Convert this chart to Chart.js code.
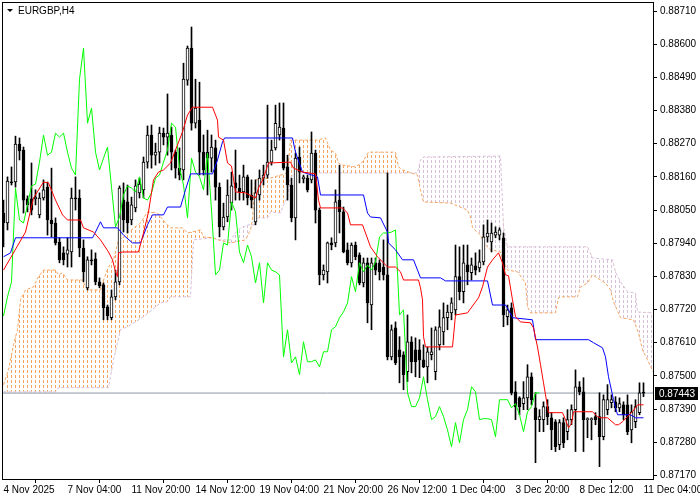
<!DOCTYPE html>
<html>
<head>
<meta charset="utf-8">
<title>EURGBP,H4</title>
<script src="https://cdn.jsdelivr.net/npm/chart.js@4.4.1/dist/chart.umd.min.js"></script>
<style>
  html, body { margin: 0; padding: 0; background: #fff; }
  #wrap { width: 700px; height: 500px; }
</style>
</head>
<body>
<div id="wrap"><canvas id="chart" width="700" height="500"></canvas></div>
<script>
"use strict";

const symbolTitle = "EURGBP,H4";

// H4 bars, one label every 16 bars
const timeTickIdx = [0, 16, 32, 48, 64, 80, 96, 112, 128, 144, 160];
const timeLabels = ["4 Nov 2025", "7 Nov 04:00", "11 Nov 20:00", "14 Nov 12:00", "19 Nov 04:00",
  "21 Nov 20:00", "26 Nov 12:00", "1 Dec 04:00", "3 Dec 20:00", "8 Dec 12:00", "11 Dec 04:00"];

const priceTicks = [0.87170, 0.87280, 0.87390, 0.87500, 0.87610, 0.87720, 0.87830,
  0.87940, 0.88050, 0.88160, 0.88270, 0.88380, 0.88490, 0.88600, 0.88710];

const opens = [
  0.88040, 0.88007, 0.88143, 0.88143, 0.88269, 0.88249, 0.88087, 0.88087, 0.88087, 0.88034,
  0.88090, 0.88126, 0.88017, 0.88007, 0.87944, 0.87908, 0.87904, 0.87911, 0.88090, 0.88090,
  0.87924, 0.87792, 0.87885, 0.87888, 0.87812, 0.87802, 0.87729, 0.87693, 0.87762, 0.87812,
  0.88083, 0.88077, 0.88017, 0.88057, 0.88107, 0.88117, 0.88209, 0.88299, 0.88232, 0.88242,
  0.88305, 0.88292, 0.88299, 0.88242, 0.88189, 0.88183, 0.88481, 0.88587, 0.88338, 0.88348,
  0.88242, 0.88242, 0.88222, 0.88256, 0.88126, 0.87994, 0.88027, 0.88073, 0.88140, 0.88123,
  0.88110, 0.88160, 0.88100, 0.88011, 0.88100, 0.88156, 0.88166, 0.88209, 0.88256, 0.88299,
  0.88322, 0.88193, 0.88133, 0.88024, 0.88226, 0.88153, 0.88156, 0.88150, 0.88239, 0.88050,
  0.87835, 0.87845, 0.87941, 0.87941, 0.88083, 0.88044, 0.87918, 0.87875, 0.87934, 0.87901,
  0.87808, 0.87875, 0.87735, 0.87875, 0.87875, 0.87861, 0.87835, 0.87563, 0.87659, 0.87586,
  0.87570, 0.87514, 0.87613, 0.87586, 0.87586, 0.87553, 0.87530, 0.87570, 0.87514, 0.87603,
  0.87646, 0.87693, 0.87709, 0.87719, 0.87829, 0.87779, 0.87868, 0.87842, 0.87865, 0.87858,
  0.87878, 0.87961, 0.87944, 0.87967, 0.87967, 0.87958, 0.87696, 0.87726, 0.87447, 0.87427,
  0.87408, 0.87427, 0.87497, 0.87394, 0.87355, 0.87355, 0.87398, 0.87361, 0.87348, 0.87272,
  0.87345, 0.87315, 0.87355, 0.87388, 0.87464, 0.87447, 0.87355, 0.87355, 0.87365, 0.87365,
  0.87298, 0.87388, 0.87411, 0.87414, 0.87394, 0.87404, 0.87404, 0.87321, 0.87348, 0.87378,
  0.87444
];
const highs = [
  0.88083, 0.88160, 0.88193, 0.88295, 0.88289, 0.88259, 0.88097, 0.88206, 0.88117, 0.88107,
  0.88150, 0.88143, 0.88189, 0.88024, 0.87958, 0.87928, 0.87958, 0.88123, 0.88160, 0.88117,
  0.87951, 0.87895, 0.87918, 0.87908, 0.87825, 0.87808, 0.87735, 0.87785, 0.87851, 0.88130,
  0.88140, 0.88133, 0.88093, 0.88150, 0.88156, 0.88226, 0.88329, 0.88332, 0.88272, 0.88325,
  0.88322, 0.88435, 0.88325, 0.88249, 0.88256, 0.88537, 0.88594, 0.88657, 0.88484, 0.88474,
  0.88299, 0.88315, 0.88299, 0.88282, 0.88140, 0.88073, 0.88150, 0.88176, 0.88249, 0.88166,
  0.88199, 0.88166, 0.88150, 0.88150, 0.88183, 0.88199, 0.88398, 0.88282, 0.88398, 0.88405,
  0.88405, 0.88232, 0.88156, 0.88239, 0.88259, 0.88166, 0.88166, 0.88309, 0.88249, 0.88057,
  0.87868, 0.87944, 0.87958, 0.88117, 0.88199, 0.88060, 0.87941, 0.87941, 0.87944, 0.87908,
  0.87891, 0.87891, 0.87891, 0.87891, 0.87885, 0.87951, 0.88173, 0.87669, 0.87679, 0.87630,
  0.87580, 0.87702, 0.87630, 0.87626, 0.87620, 0.87603, 0.87596, 0.87659, 0.87663, 0.87719,
  0.87742, 0.87735, 0.87759, 0.87934, 0.87928, 0.87934, 0.87934, 0.87891, 0.87908, 0.87918,
  0.88001, 0.88017, 0.88007, 0.87994, 0.87991, 0.87974, 0.87735, 0.87742, 0.87481, 0.87431,
  0.87481, 0.87537, 0.87510, 0.87444, 0.87388, 0.87414, 0.87421, 0.87378, 0.87355, 0.87355,
  0.87361, 0.87388, 0.87404, 0.87520, 0.87481, 0.87494, 0.87361, 0.87361, 0.87378, 0.87444,
  0.87437, 0.87471, 0.87437, 0.87431, 0.87427, 0.87414, 0.87437, 0.87404, 0.87421, 0.87477,
  0.87477
];
const lows = [
  0.87928, 0.87984, 0.88133, 0.88126, 0.88216, 0.88040, 0.88044, 0.88034, 0.88067, 0.88024,
  0.88083, 0.87967, 0.87961, 0.87934, 0.87875, 0.87868, 0.87861, 0.87861, 0.88050, 0.87895,
  0.87812, 0.87785, 0.87868, 0.87802, 0.87792, 0.87686, 0.87686, 0.87686, 0.87752, 0.87802,
  0.87977, 0.87974, 0.88001, 0.88044, 0.88090, 0.88090, 0.88189, 0.88189, 0.88199, 0.88206,
  0.88266, 0.88232, 0.88183, 0.88156, 0.88150, 0.88150, 0.88464, 0.88315, 0.88322, 0.88166,
  0.88166, 0.88100, 0.88176, 0.88083, 0.87961, 0.87984, 0.88011, 0.88050, 0.88083, 0.88083,
  0.88083, 0.88067, 0.88057, 0.88001, 0.88083, 0.88133, 0.88156, 0.88199, 0.88249, 0.88282,
  0.88183, 0.88083, 0.88011, 0.87951, 0.88140, 0.88140, 0.88110, 0.88140, 0.88007, 0.87802,
  0.87818, 0.87808, 0.87918, 0.87928, 0.87974, 0.87908, 0.87868, 0.87861, 0.87885, 0.87802,
  0.87795, 0.87676, 0.87653, 0.87835, 0.87818, 0.87818, 0.87553, 0.87553, 0.87537, 0.87477,
  0.87454, 0.87481, 0.87510, 0.87497, 0.87494, 0.87527, 0.87477, 0.87553, 0.87487, 0.87586,
  0.87603, 0.87653, 0.87686, 0.87702, 0.87752, 0.87742, 0.87802, 0.87818, 0.87835, 0.87845,
  0.87868, 0.87944, 0.87911, 0.87958, 0.87951, 0.87663, 0.87669, 0.87437, 0.87355, 0.87371,
  0.87388, 0.87388, 0.87404, 0.87212, 0.87315, 0.87315, 0.87338, 0.87255, 0.87249, 0.87255,
  0.87262, 0.87288, 0.87338, 0.87249, 0.87437, 0.87249, 0.87295, 0.87288, 0.87338, 0.87199,
  0.87288, 0.87371, 0.87394, 0.87381, 0.87381, 0.87355, 0.87305, 0.87278, 0.87328, 0.87371,
  0.87431
];
const closes = [
  0.88007, 0.88146, 0.88140, 0.88269, 0.88246, 0.88083, 0.88067, 0.88050, 0.88093, 0.88090,
  0.88117, 0.88017, 0.88004, 0.87941, 0.87885, 0.87885, 0.87918, 0.88090, 0.88087, 0.87924,
  0.87845, 0.87885, 0.87881, 0.87812, 0.87798, 0.87726, 0.87699, 0.87762, 0.87812, 0.88123,
  0.88017, 0.88007, 0.88067, 0.88130, 0.88136, 0.88209, 0.88299, 0.88232, 0.88242, 0.88305,
  0.88292, 0.88305, 0.88242, 0.88189, 0.88166, 0.88484, 0.88587, 0.88338, 0.88388, 0.88242,
  0.88183, 0.88222, 0.88259, 0.88126, 0.87994, 0.88027, 0.88100, 0.88130, 0.88123, 0.88110,
  0.88160, 0.88090, 0.88083, 0.88107, 0.88156, 0.88166, 0.88209, 0.88249, 0.88338, 0.88325,
  0.88189, 0.88133, 0.88024, 0.88222, 0.88176, 0.88160, 0.88117, 0.88239, 0.88050, 0.87835,
  0.87851, 0.87941, 0.87934, 0.88077, 0.88044, 0.87911, 0.87875, 0.87934, 0.87895, 0.87808,
  0.87875, 0.87742, 0.87875, 0.87851, 0.87845, 0.87835, 0.87563, 0.87653, 0.87543, 0.87563,
  0.87504, 0.87613, 0.87547, 0.87547, 0.87553, 0.87530, 0.87580, 0.87580, 0.87653, 0.87663,
  0.87693, 0.87712, 0.87742, 0.87829, 0.87779, 0.87875, 0.87845, 0.87868, 0.87851, 0.87878,
  0.87961, 0.87974, 0.87974, 0.87977, 0.87984, 0.87702, 0.87719, 0.87444, 0.87398, 0.87398,
  0.87427, 0.87497, 0.87421, 0.87355, 0.87365, 0.87398, 0.87365, 0.87321, 0.87265, 0.87345,
  0.87278, 0.87355, 0.87388, 0.87464, 0.87447, 0.87355, 0.87358, 0.87358, 0.87355, 0.87298,
  0.87421, 0.87421, 0.87421, 0.87394, 0.87408, 0.87371, 0.87315, 0.87381, 0.87398, 0.87444,
  0.87443
];

// indicator lines as [bar index, price] vertices
const tenkanPts = [
  [0, 0.87851], [5.5, 0.87977], [7.5, 0.88090], [10, 0.88143], [11.25, 0.88140], [13, 0.88083],
  [14.75, 0.88034], [16, 0.88017], [19.25, 0.88017], [20, 0.87991], [22.5, 0.87977], [24.25, 0.87951],
  [26.25, 0.87911], [27.25, 0.87885], [28, 0.87845], [28.5, 0.87829], [28.75, 0.87908], [29.75, 0.87911],
  [33.75, 0.87911], [35, 0.87974], [36.25, 0.88044], [37.5, 0.88150], [38.75, 0.88176], [40, 0.88183],
  [41.75, 0.88206], [43, 0.88249], [44.75, 0.88309], [46, 0.88365], [47.25, 0.88391], [52.25, 0.88391],
  [53.5, 0.88348], [53.75, 0.88292], [55, 0.88282], [56, 0.88206], [57, 0.88196], [58, 0.88110],
  [60.5, 0.88107], [63, 0.88090], [63.75, 0.88123], [65, 0.88156], [66.25, 0.88206], [71.75, 0.88209],
  [72.5, 0.88189], [74.75, 0.88176], [78, 0.88170], [78.75, 0.88083], [79.25, 0.88057], [84.75, 0.88057],
  [86, 0.88040], [86.75, 0.88001], [89.75, 0.88001], [90.5, 0.87974], [91.75, 0.87928], [93.5, 0.87895],
  [96, 0.87861], [98, 0.87861], [99.25, 0.87845], [100, 0.87818], [103.75, 0.87818], [104.25, 0.87792],
  [104.75, 0.87752], [105, 0.87630], [105.5, 0.87596], [112.25, 0.87596], [113, 0.87702], [116, 0.87709],
  [118.75, 0.87759], [119.75, 0.87795], [121, 0.87861], [122.25, 0.87885], [123.75, 0.87908], [124.75, 0.87875],
  [125.5, 0.87835], [126.25, 0.87832], [127.25, 0.87752], [128, 0.87696], [129.25, 0.87679], [131.75, 0.87676],
  [132.5, 0.87659], [133.5, 0.87596], [134.25, 0.87537], [135, 0.87477], [135.5, 0.87437], [136.25, 0.87378],
  [139.75, 0.87378], [140.5, 0.87355], [141.25, 0.87328], [142, 0.87342], [142.5, 0.87381], [147.25, 0.87381],
  [148.5, 0.87365], [149.25, 0.87361], [151, 0.87361], [153, 0.87338], [153.75, 0.87338], [154.75, 0.87348],
  [156, 0.87365], [157.25, 0.87381], [158.5, 0.87404], [160, 0.87404]
];
const kijunPts = [
  [0, 0.87895], [1.75, 0.87908], [3, 0.87958], [22.25, 0.87958], [23, 0.87977], [24.25, 0.88011],
  [25, 0.87991], [28.5, 0.87991], [30, 0.87967], [32.25, 0.87941], [34.25, 0.87941], [36, 0.88001],
  [37.25, 0.88034], [40, 0.88034], [41, 0.88060], [44.25, 0.88060], [45.5, 0.88117], [46.75, 0.88170],
  [52.25, 0.88170], [53.5, 0.88216], [54.75, 0.88276], [55.25, 0.88289], [72.25, 0.88289], [73, 0.88242],
  [74.75, 0.88176], [78.5, 0.88160], [79.25, 0.88100], [90, 0.88100], [91, 0.88040], [91.75, 0.88027],
  [94.25, 0.88024], [96, 0.87977], [96.25, 0.87941], [98, 0.87918], [99.75, 0.87885], [102.5, 0.87885],
  [103.5, 0.87851], [104.25, 0.87825], [109.25, 0.87825], [110.5, 0.87815], [121, 0.87815], [122.25, 0.87735],
  [125.5, 0.87735], [126.25, 0.87719], [127.25, 0.87693], [132.25, 0.87686], [133, 0.87620], [146.25, 0.87620],
  [147.5, 0.87610], [149.75, 0.87593], [150.5, 0.87563], [151.25, 0.87497], [152.5, 0.87421], [153.5, 0.87371],
  [156.75, 0.87371], [158, 0.87361], [160, 0.87361]
];
const spanAPts = [
  [0, 0.87471], [1.25, 0.87520], [2.5, 0.87603], [3.5, 0.87653], [4.25, 0.87752], [5.5, 0.87785],
  [7.5, 0.87795], [8.75, 0.87829], [10, 0.87851], [13, 0.87851], [13.75, 0.87835], [14.75, 0.87842],
  [16, 0.87818], [19.75, 0.87818], [20.5, 0.87795], [21.25, 0.87785], [24.25, 0.87785], [25, 0.87818],
  [26.25, 0.87861], [27.5, 0.87885], [28.75, 0.87951], [29.75, 0.87958], [31.25, 0.87977], [34.25, 0.88007],
  [36, 0.88044], [38.5, 0.88040], [40.5, 0.88007], [41.75, 0.87991], [44.75, 0.87991], [46, 0.87974],
  [49.25, 0.87984], [50, 0.87961], [52.5, 0.87958], [53.75, 0.87951], [56.75, 0.87941], [60.5, 0.87951],
  [61.75, 0.87984], [62.25, 0.88017], [62.5, 0.88083], [63, 0.88150], [66.75, 0.88156], [71, 0.88173],
  [71.75, 0.88282], [78.5, 0.88282], [80.5, 0.88289], [81, 0.88272], [81.75, 0.88249], [83, 0.88239],
  [83.75, 0.88206], [84.75, 0.88199], [88, 0.88193], [89.75, 0.88209], [91.25, 0.88242], [98, 0.88242],
  [98.75, 0.88193], [99.75, 0.88183], [103.5, 0.88166], [104.25, 0.88117], [105, 0.88077], [111.75, 0.88073],
  [116, 0.88050], [116.75, 0.88027], [117.25, 0.87991], [119.25, 0.87967], [120, 0.87941], [121.75, 0.87918],
  [124.25, 0.87911], [125, 0.87878], [126, 0.87851], [128.5, 0.87845], [130.5, 0.87808], [131, 0.87729],
  [131.75, 0.87709], [138, 0.87709], [138.75, 0.87759], [139.25, 0.87762], [143.5, 0.87762], [144.25, 0.87795],
  [146, 0.87808], [147.25, 0.87835], [149.25, 0.87818], [150.5, 0.87808], [151.75, 0.87785], [152.5, 0.87746],
  [154.25, 0.87693], [157.5, 0.87686], [158.75, 0.87643], [159.75, 0.87586], [161, 0.87553], [162.4, 0.87514]
];
const spanBPts = [
  [0, 0.87447], [13, 0.87447], [13.75, 0.87461], [26.25, 0.87461], [27.5, 0.87553], [29.25, 0.87653],
  [31, 0.87663], [35, 0.87696], [39.25, 0.87742], [41, 0.87746], [41.75, 0.87762], [46.75, 0.87762],
  [47.5, 0.87951], [52.25, 0.87958], [53.5, 0.87951], [56.75, 0.87951], [58, 0.87974], [59.25, 0.87991],
  [61.25, 0.88001], [63, 0.88001], [63.5, 0.88024], [66, 0.88024], [66.75, 0.88044], [69.25, 0.88040],
  [70, 0.88067], [71, 0.88093], [71.75, 0.88160], [73.5, 0.88173], [103.5, 0.88173], [104.25, 0.88216],
  [105, 0.88226], [124.25, 0.88229], [125, 0.87994], [126, 0.87928], [146, 0.87928], [147.25, 0.87891],
  [152.25, 0.87885], [153, 0.87845], [154.25, 0.87812], [156, 0.87779], [158, 0.87775], [158.5, 0.87712],
  [162.4, 0.87709]
];
const chikouShift = 26;

const xMin = -0.375;
const xMax = 162.375;

(function () {
  const canvas = document.getElementById("chart");
  const ctx = canvas.getContext("2d");
  const lastPrice = closes[closes.length - 1];

  // vertical dotted hatch, one stroke per bar column
  function hatch(color) {
    const c = document.createElement("canvas");
    c.width = 4;
    c.height = 5;
    const g = c.getContext("2d");
    g.fillStyle = color;
    g.fillRect(3, 0, 1, 3);
    return ctx.createPattern(c, "repeat");
  }

  const toXY = (pts) => pts.map((p) => ({ x: p[0], y: p[1] }));
  const lineDs = (label, pts, color, order, extra) => Object.assign({
    type: "line", label, data: pts, borderColor: color, borderWidth: 1,
    pointRadius: 0, tension: 0, fill: false, order
  }, extra || {});

  Chart.defaults.font.family = "'Liberation Sans', Arial, sans-serif";
  Chart.defaults.font.size = 10;
  Chart.defaults.color = "#000";

  const mtFrame = {
    id: "mtFrame",
    afterDraw(chart) {
      const c = chart.ctx;
      const a = chart.chartArea;
      c.save();
      c.strokeStyle = "#000";
      c.lineWidth = 1;
      c.strokeRect(a.left + 0.5, a.top + 0.5, a.right - a.left, a.bottom - a.top);

      c.fillStyle = "#000";
      c.beginPath();
      c.moveTo(a.left + 5, a.top + 7);
      c.lineTo(a.left + 11, a.top + 7);
      c.lineTo(a.left + 8, a.top + 10);
      c.closePath();
      c.fill();
      c.font = "10px 'Liberation Sans', Arial, sans-serif";
      c.textBaseline = "middle";
      c.fillText(symbolTitle, a.left + 16, a.top + 9);

      const y = Math.round(chart.scales.y.getPixelForValue(lastPrice));
      c.fillRect(a.right + 2, y - 6, 43, 13);
      c.fillStyle = "#fff";
      c.fillText(lastPrice.toFixed(5), a.right + 6, y + 1);
      c.restore();
    }
  };

  new Chart(canvas, {
    type: "bar",
    data: {
      datasets: [
        lineDs("Senkou Span A", toXY(spanAPts), "#F4A460", 8, {
          borderDash: [3, 2],
          fill: { target: 1, above: hatch("#F4A460"), below: hatch("#D8BFD8") }
        }),
        lineDs("Senkou Span B", toXY(spanBPts), "#D8BFD8", 9, { borderDash: [3, 2] }),
        {
          label: "Wick", data: highs.map((h, i) => ({ x: i, y: [lows[i], h] })),
          backgroundColor: "#000", barThickness: 1, grouped: false, order: 5
        },
        {
          label: "Body", data: opens.map((o, i) => ({ x: i, y: [o, closes[i]] })),
          backgroundColor: opens.map((o, i) => (closes[i] >= o ? "#fff" : "#000")),
          borderColor: "#000", borderWidth: 1, borderSkipped: false,
          barThickness: 3, minBarLength: 1, grouped: false, order: 4
        },
        lineDs("Price", [{ x: xMin, y: lastPrice }, { x: xMax, y: lastPrice }], "#8A97A4", 6),
        lineDs("Chikou Span", closes.map((c, i) => ({ x: i - chikouShift, y: c })), "#00FF00", 3),
        lineDs("Kijun-sen", toXY(kijunPts), "#0000FF", 2),
        lineDs("Tenkan-sen", toXY(tenkanPts), "#FF0000", 1)
      ]
    },
    options: {
      responsive: false,
      devicePixelRatio: 1,
      animation: false,
      layout: { padding: { left: 2, top: 2, right: 0, bottom: 0 } },
      plugins: {
        legend: { display: false },
        tooltip: { enabled: false },
        filler: { drawTime: "beforeDatasetsDraw" }
      },
      scales: {
        x: {
          type: "linear", min: xMin, max: xMax, offset: false,
          grid: { drawOnChartArea: false, color: "#000", tickLength: 4 },
          border: { display: false },
          ticks: {
            autoSkip: false, maxRotation: 0, minRotation: 0, align: "start", padding: 1,
            callback: (v, i) => timeLabels[i]
          },
          afterBuildTicks: (s) => { s.ticks = timeTickIdx.map((v) => ({ value: v })); },
          afterFit: (s) => { s.height = 21; s.paddingLeft = 0; s.paddingRight = 0; }
        },
        y: {
          type: "linear", position: "right", min: 0.87158, max: 0.8874,
          grid: { drawOnChartArea: false, color: "#000", tickLength: 4 },
          border: { display: false },
          ticks: { padding: 3, callback: (v) => v.toFixed(5) },
          afterBuildTicks: (s) => { s.ticks = priceTicks.map((v) => ({ value: v })); },
          afterFit: (s) => { s.width = 47; s.paddingTop = 0; s.paddingBottom = 0; }
        }
      }
    },
    plugins: [mtFrame]
  });
})();
</script>
</body>
</html>
